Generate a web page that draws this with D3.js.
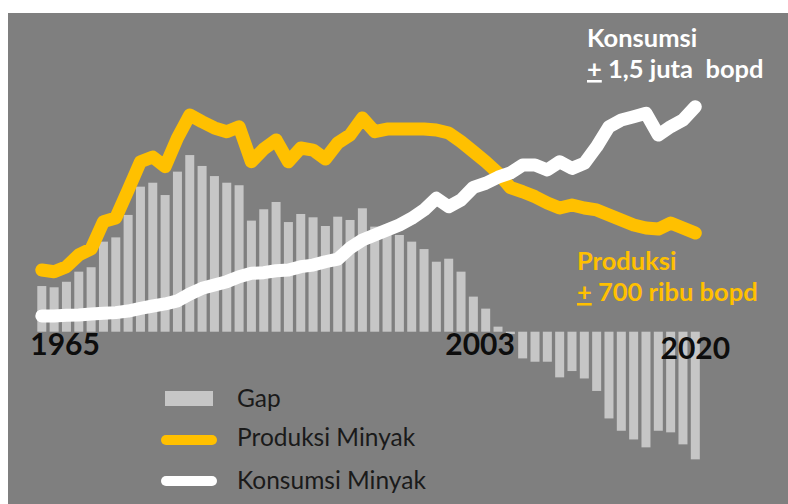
<!DOCTYPE html>
<html>
<head>
<meta charset="utf-8">
<script src="https://d3js.org/d3.v7.min.js"></script>
<style>
  body { margin: 0; background: #fff; }
  svg { display: block; }
  text { font-family: Lato, "Open Sans", "DejaVu Sans", sans-serif; }
</style>
</head>
<body>
<svg width="788" height="504"></svg>
<script>
// one bar per year, 1965 onwards (54 bars in the picture)
var years = d3.range(1965, 2019);

// ribu bopd
var produksi = [466,455,487,561,599,772,795,972,1151,1181,1120,1301,1447,1404,1365,1341,1373,1151,1232,1289,
  1151,1238,1225,1168,1270,1320,1428,1341,1358,1358,1358,1358,1352,1333,1278,1215,1151,1080,988,961,
  930,890,858,877,858,846,814,782,751,732,725,763,732,700];
var konsumsi = [175,175,179,181,187,192,196,206,223,238,251,270,314,350,371,392,423,445,449,461,
  466,487,497,518,535,605,656,687,719,751,793,846,920,866,909,989,1015,1053,1080,1130,
  1130,1099,1151,1109,1141,1246,1373,1415,1436,1458,1320,1373,1415,1499];
var gap = [289,281,316,380,408,570,597,739,918,943,865,1013,1118,1049,985,943,927,703,775,821,
  694,745,724,669,728,707,781,665,644,612,570,523,443,462,380,222,146,32,-15,-169,
  -190,-190,-289,-249,-296,-375,-549,-627,-682,-732,-627,-637,-713,-808];

// year labels shown under the bars: [text, year of the bar it sits on]
var yearLabels = [["1965", 1965], ["2003", 2003], ["2020", 2018]];

var legendItems = ["Gap", "Produksi Minyak", "Konsumsi Minyak"];

var kuning = "#FFC000", putih = "#ffffff", abu = "#c6c6c6";

var svg = d3.select("svg");

svg.append("rect")
    .attr("x", 8).attr("y", 13)
    .attr("width", 780).attr("height", 491)
    .attr("fill", "#7f7f7f");

var x = d3.scaleBand()
    .domain(years)
    .range([37.3, 699.8])
    .paddingInner(0.27)
    .paddingOuter(0);

var yBar = d3.scaleLinear().domain([0, 1500]).range([331.7, 94.7]);
var yLine = d3.scaleLinear().domain([0, 1500]).range([343.6, 106.6]);

// gap bars
svg.append("g")
  .selectAll("rect")
  .data(gap)
  .enter().append("rect")
    .attr("x", function(d, i) { return x(years[i]); })
    .attr("width", x.bandwidth())
    .attr("y", function(d) { return yBar(Math.max(0, d)); })
    .attr("height", function(d) { return Math.abs(yBar(d) - yBar(0)); })
    .attr("fill", abu);

var line = d3.line()
    .x(function(d, i) { return x(years[i]) + x.bandwidth() / 2; })
    .y(function(d) { return yLine(d); });

svg.append("path")
    .datum(produksi)
    .attr("d", line)
    .attr("fill", "none")
    .attr("stroke", kuning)
    .attr("stroke-width", 13)
    .attr("stroke-linejoin", "round")
    .attr("stroke-linecap", "round");

svg.append("path")
    .datum(konsumsi)
    .attr("d", line)
    .attr("fill", "none")
    .attr("stroke", putih)
    .attr("stroke-width", 13)
    .attr("stroke-linejoin", "round")
    .attr("stroke-linecap", "round");

// year labels
svg.append("g")
  .selectAll("text")
  .data(yearLabels)
  .enter().append("text")
    .attr("x", function(d, i) {
      if (i == 0) return x(d[1]) - 7;
      if (i == 1) return x(d[1]) + x.bandwidth();
      return x(d[1]) + x.bandwidth() / 2;
    })
    .attr("y", function(d, i) { return i == 2 ? 359 : 355; })
    .attr("text-anchor", function(d, i) { return ["start", "end", "middle"][i]; })
    .attr("font-size", 30)
    .attr("font-weight", 700)
    .attr("fill", "#0d0d0d")
    .text(function(d) { return d[0]; });

// annotations
var notes = [
  {lines: [["", "Konsumsi"], ["+", " 1,5 juta  bopd"]], color: putih, x: 587, y: 47},
  {lines: [["", "Produksi"], ["+", " 700 ribu bopd"]], color: kuning, x: 577, y: 270}
];
notes.forEach(function(n) {
  n.lines.forEach(function(l, j) {
    var t = svg.append("text")
        .attr("x", n.x)
        .attr("y", n.y + j * 31)
        .attr("font-size", 25.5)
        .attr("font-weight", 700)
        .attr("fill", n.color);
    if (l[0]) t.append("tspan").attr("text-decoration", "underline").text(l[0]);
    t.append("tspan").style("white-space", "pre").text(l[1]);
  });
});

// legend
var lg = svg.append("g");
lg.append("rect")
    .attr("x", 165).attr("y", 391)
    .attr("width", 48).attr("height", 15)
    .attr("fill", abu);
[[kuning, 440], [putih, 481]].forEach(function(s) {
  lg.append("line")
      .attr("x1", 166).attr("x2", 212)
      .attr("y1", s[1]).attr("y2", s[1])
      .attr("stroke", s[0])
      .attr("stroke-width", 10)
      .attr("stroke-linecap", "round");
});
lg.selectAll("text")
  .data(legendItems)
  .enter().append("text")
    .attr("x", 237)
    .attr("y", function(d, i) { return [407, 446, 489][i]; })
    .attr("font-size", 24.5)
    .attr("fill", "#1a1a1a")
    .text(function(d) { return d; });
</script>
</body>
</html>
